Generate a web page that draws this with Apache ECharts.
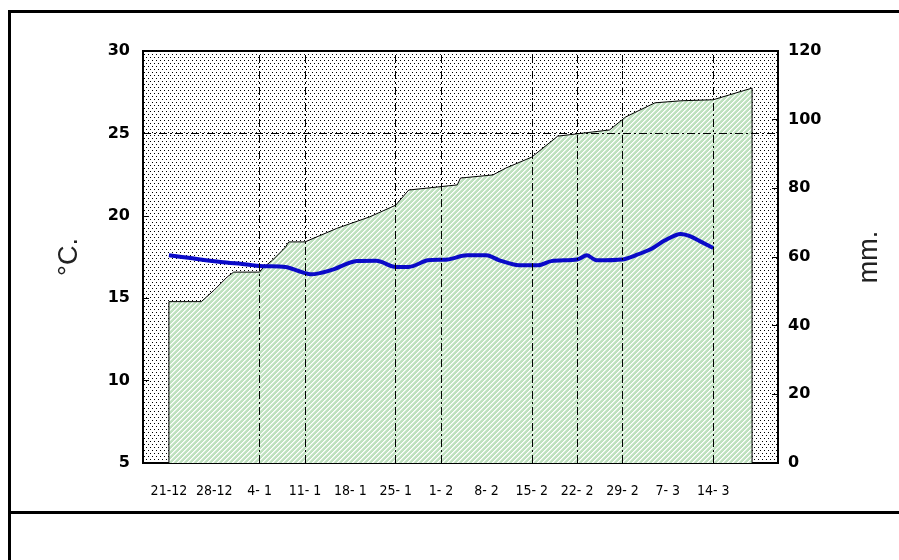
<!DOCTYPE html>
<html>

<head>
    <meta charset="utf-8">
    <title>ECharts</title>
    <script src="https://cdn.jsdelivr.net/npm/echarts@6/dist/echarts.min.js"></script>
    <style>
        body { margin: 0; background: #fff; }
    </style>
</head>

<body>
    <div id="main" style="width: 899px;height:560px;"></div>
    <script type="text/javascript">
        // x axis = days counted from 21-12
        var weekDays = [0, 7, 14, 21, 28, 35, 42, 49, 56, 63, 70, 77, 84];
        var weekLabels = ['21-12', '28-12', '4- 1', '11- 1', '18- 1', '25- 1', '1- 2', '8- 2', '15- 2', '22- 2', '29- 2', '7- 3', '14- 3'];
        var gridDays = [14, 21, 35, 42, 56, 63, 70, 84];   // dashed verticals seen in the picture

        // temperature, degC (left axis)
        var tempDays = [0, 3, 8, 12, 14, 18, 20, 22, 25, 29, 32, 35, 37, 40, 43, 46, 49, 51, 54, 57, 59, 63, 64.5, 66, 70, 72, 74.5, 76.5, 79, 80.5, 82, 84];
        var tempVals = [17.6, 17.45, 17.2, 17.05, 16.95, 16.9, 16.65, 16.45, 16.7, 17.25, 17.27, 16.9, 16.9, 17.3, 17.35, 17.6, 17.6, 17.3, 17.0, 17.0, 17.25, 17.35, 17.6, 17.3, 17.35, 17.6, 18.0, 18.5, 18.9, 18.75, 18.45, 18.05];

        // cumulative rain, mm (right axis)
        var rainDays = [0, 0, 5, 7, 9, 10, 14, 14.5, 16, 18, 18.5, 21, 26, 31, 35, 37, 44.5, 45, 50, 52, 56, 60, 64, 68, 70.5, 75, 79, 84, 90, 90];
        var rainVals = [0, 47, 47, 50.4, 54.2, 55.6, 55.6, 56.8, 59.1, 62.9, 64.4, 64.4, 68.4, 71.7, 75.1, 79.5, 81, 83, 83.9, 85.9, 89.1, 95.2, 96.1, 97, 100.8, 104.9, 105.5, 105.8, 109.2, 0];

        function pairs(xs, ys) {
            var out = [];
            for (var i = 0; i < xs.length; i++) out.push([xs[i], ys[i]]);
            return out;
        }

        function dotPattern() {
            var c = document.createElement('canvas');
            c.width = 4; c.height = 6;
            var ctx = c.getContext('2d');
            ctx.fillStyle = '#fff';
            ctx.fillRect(0, 0, 4, 6);
            ctx.fillStyle = '#000';
            ctx.fillRect(0, 0, 1, 1);
            ctx.fillRect(2, 3, 1, 1);
            return { image: c, repeat: 'repeat' };
        }

        function hatchPattern() {
            var c = document.createElement('canvas');
            c.width = 5; c.height = 5;
            var ctx = c.getContext('2d');
            ctx.fillStyle = '#bfe1bf';
            ctx.fillRect(0, 0, 5, 5);
            for (var x = 0; x < 5; x++) {
                for (var y = 0; y < 5; y++) {
                    var k = (x + y) % 5;
                    if (k === 4) { ctx.fillStyle = '#fff'; ctx.fillRect(x, y, 1, 1); }
                    if (k === 0) { ctx.fillStyle = '#e6f3e6'; ctx.fillRect(x, y, 1, 1); }
                }
            }
            return { image: c, repeat: 'repeat' };
        }

        var tickFont = { fontFamily: 'DejaVu Sans', fontWeight: 'bold', fontSize: 16, color: '#000' };
        var dash = [8, 3, 2, 3];

        var myChart = echarts.init(document.getElementById('main'));
        var option = {
            backgroundColor: '#fff',
            animation: false,
            graphic: [
                { type: 'rect', shape: { x: 8, y: 10, width: 3, height: 550 }, style: { fill: '#000' } },
                { type: 'rect', shape: { x: 8, y: 10, width: 891, height: 3 }, style: { fill: '#000' } },
                { type: 'rect', shape: { x: 8, y: 511, width: 891, height: 3 }, style: { fill: '#000' } }
            ],
            grid: {
                left: 143, right: 121, top: 51, bottom: 97,
                show: true,
                backgroundColor: dotPattern(),
                borderColor: '#000',
                borderWidth: 2
            },
            xAxis: {
                type: 'value', min: -4, max: 94,
                splitLine: { show: false },
                axisTick: { show: false },
                axisLine: { lineStyle: { color: '#000', width: 2 } },
                axisLabel: {
                    customValues: weekDays,
                    margin: 21,
                    fontFamily: 'DejaVu Sans Condensed, Liberation Sans Narrow, sans-serif',
                    fontSize: 14,
                    color: '#000',
                    formatter: function (v) { return weekLabels[weekDays.indexOf(v)]; }
                }
            },
            yAxis: [{
                type: 'value', min: 5, max: 30, interval: 5,
                name: '°C.', nameLocation: 'middle', nameRotate: 90, nameGap: 60,
                nameTextStyle: { fontFamily: 'Liberation Sans', fontSize: 27, color: '#222' },
                axisLine: { show: true, onZero: false, lineStyle: { color: '#000', width: 2 } },
                axisTick: { show: true, inside: true, length: 6, lineStyle: { color: '#000' } },
                axisLabel: Object.assign({ margin: 13 }, tickFont),
                splitLine: { show: false }
            }, {
                type: 'value', min: 0, max: 120, interval: 20,
                name: 'mm.', nameLocation: 'middle', nameRotate: 90, nameGap: 78,
                nameTextStyle: { fontFamily: 'Liberation Sans', fontSize: 27, color: '#222' },
                axisLine: { show: true, onZero: false, lineStyle: { color: '#000', width: 2 } },
                axisTick: { show: true, inside: true, length: 6, lineStyle: { color: '#000' } },
                axisLabel: Object.assign({ margin: 10 }, tickFont),
                splitLine: { show: false }
            }],
            series: [{
                // dashed gridlines, kept under the area
                type: 'line', data: [], z: 1,
                markLine: {
                    silent: true, symbol: 'none', label: { show: false },
                    lineStyle: { color: '#000', width: 1, type: dash },
                    data: gridDays.map(function (d) { return { xAxis: d }; }).concat([{ yAxis: 25 }])
                }
            }, {
                name: 'mm',
                type: 'line', yAxisIndex: 1, z: 2,
                data: pairs(rainDays, rainVals),
                symbol: 'none',
                lineStyle: { color: '#000', width: 1 },
                areaStyle: { color: hatchPattern(), opacity: 1 }
            }, {
                name: '°C',
                type: 'line', yAxisIndex: 0, z: 3,
                data: pairs(tempDays, tempVals),
                symbol: 'none', smooth: 0.3,
                lineStyle: { color: '#0a0ac8', width: 4 }
            }]
        };
        myChart.setOption(option);
    </script>
</body>

</html>
